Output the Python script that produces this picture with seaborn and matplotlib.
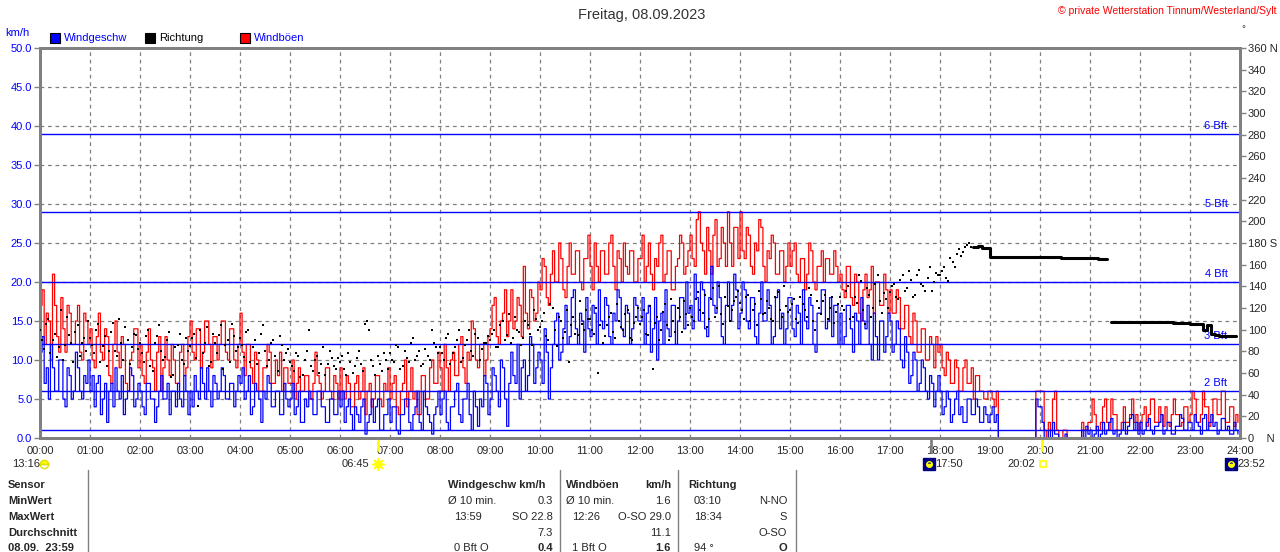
import numpy as np
import pandas as pd
import matplotlib
matplotlib.use("Agg")
import matplotlib.pyplot as plt
import seaborn as sns
from matplotlib.patches import Rectangle
from matplotlib.transforms import blended_transform_factory

# ==========================================
# DATA (2.5-minute samples, 24 per hour)
# ==========================================

windgeschw = [
    11, 13, 7, 9, 5, 12, 9, 6, 6, 10, 10, 5, 4, 9, 8, 5, 6, 11, 9, 6, 5, 8, 7, 10,
    6, 8, 4, 7, 8, 3, 5, 7, 2, 6, 7, 4, 9, 6, 5, 8, 3, 5, 6, 9, 8, 4, 5, 7,
    6, 4, 3, 7, 7, 5, 5, 2, 4, 6, 8, 5, 5, 7, 3, 6, 6, 4, 7, 5, 4, 8, 6, 3,
    6, 4, 8, 6, 5, 9, 7, 5, 9, 6, 4, 8, 7, 5, 6, 9, 8, 5, 5, 7, 7, 4, 6, 8,
    7, 9, 5, 6, 8, 3, 4, 7, 6, 5, 2, 6, 5, 8, 7, 4, 4, 6, 6, 3, 3, 7, 5, 4,
    5, 7, 3, 4, 6, 2, 2, 5, 4, 6, 5, 3, 3, 6, 6, 4, 4, 2, 2, 5, 5, 3, 3, 6,
    4, 6, 2, 4, 5, 3, 1, 4, 3, 2, 4, 5, 0.5, 2, 3, 5, 2, 4, 5, 1, 1, 3, 3, 5,
    2, 4, 4, 1, 0.5, 3, 3, 5, 5, 2, 1, 3, 4, 6, 2, 1, 6, 4, 3, 2, 0.5, 3, 4, 6,
    3, 5, 6, 2, 1, 4, 4, 6, 7, 3, 2, 5, 5, 7, 3, 1, 6, 4, 1.5, 5, 4, 8, 7, 3,
    5, 9, 8, 6, 4, 10, 9, 5, 1.5, 7, 11, 8, 7, 12, 5, 9, 10, 6, 8, 13, 12, 7, 9, 11,
    10, 7, 14, 11, 5, 9, 12, 15, 16, 10, 11, 14, 17, 12, 13, 18, 19, 14, 12, 16, 15, 11, 18, 14,
    13, 17, 16, 12, 19, 15, 14, 18, 17, 13, 12, 16, 15, 19, 18, 14, 13, 17, 16, 12, 14, 18, 17, 15,
    15, 18, 12, 16, 17, 11, 14, 18, 10, 15, 16, 12, 19, 14, 13, 17, 17, 12, 15, 18, 18, 14, 20, 16,
    17, 14, 21, 18, 15, 20, 19, 14, 13, 18, 22, 17, 16, 20, 18, 13, 12, 17, 20, 15, 17, 21, 19, 14,
    16, 20, 19, 15, 14, 18, 18, 13, 12, 16, 20, 15, 15, 19, 17, 12, 13, 18, 19, 14, 16, 12, 14, 18,
    18, 14, 13, 17, 16, 12, 19, 15, 14, 18, 17, 12, 11, 16, 16, 19, 19, 14, 15, 18, 13, 17, 17, 12,
    16, 12, 13, 17, 17, 14, 11, 16, 15, 12, 18, 15, 14, 17, 12, 10, 16, 13, 10, 15, 15, 11, 13, 16,
    15, 11, 12, 15, 14, 10, 9, 13, 11, 7, 8, 11, 10, 6, 7, 10, 9, 6, 5, 8, 7, 4, 6, 8,
    6, 3, 4, 6, 5, 2, 3, 5, 6, 3, 4, 2, 2, 5, 5, 3, 3, 5, 4, 2, 2, 4, 3, 2,
    3, 4, 2, 3, 0, 0, 0, 0, 0, 0, 0, 0, 0, 0, 0, 0, 0, 0, 0, 0, 0, 0, 5, 4,
    4, 2, 0, 0, 1, 0, 2, 0.5, 0.5, 0, 0, 0, 0.5, 0, 0, 0, 0, 0, 0, 0, 1, 0, 1.5, 0.5,
    1, 0, 0.5, 1.5, 0, 0.5, 2, 0.5, 1, 2, 2.5, 0.5, 1, 0, 0.5, 1, 2, 0.5, 1.5, 2.5, 3, 1, 2, 0.5,
    2, 0.5, 1, 2, 2.5, 1, 0.5, 1.5, 1.5, 2, 3, 0.5, 1, 2, 2, 0.5, 0.5, 1.5, 1.5, 3, 2.5, 1, 1, 2,
    2, 1, 3, 2, 1.5, 0.5, 2.5, 3, 1, 2, 3, 1.5, 2, 0.5, 1, 2.5, 2.5, 1, 1.5, 0.5, 0.5, 2, 1, 0.5,
]

windboeen = [
    17, 19, 12, 16, 15, 10, 21, 17, 13, 11, 18, 14, 11, 17, 16, 12, 12, 15, 17, 11, 10, 16, 15, 12,
    14, 10, 9, 13, 16, 11, 10, 14, 13, 8, 7, 12, 15, 11, 9, 13, 12, 7, 6, 10, 11, 14, 14, 9,
    12, 8, 7, 11, 14, 10, 9, 6, 11, 13, 6, 9, 13, 10, 8, 12, 10, 7, 7, 11, 12, 8, 9, 13,
    15, 11, 10, 14, 14, 9, 11, 15, 15, 12, 9, 13, 13, 10, 12, 15, 15, 11, 10, 14, 14, 10, 9, 12,
    16, 11, 8, 12, 12, 9, 7, 11, 10, 6, 6, 9, 9, 12, 11, 7, 7, 10, 8, 11, 6, 9, 9, 7,
    7, 10, 5, 7, 9, 6, 6, 8, 8, 5, 5, 7, 11, 8, 7, 5, 6, 9, 9, 6, 5, 8, 7, 5,
    9, 6, 5, 8, 7, 4, 4, 7, 8, 5, 6, 9, 3, 6, 7, 4, 5, 8, 8, 5, 4, 7, 6, 9,
    5, 7, 8, 4, 3, 6, 7, 10, 4, 6, 9, 5, 6, 3, 3, 8, 8, 5, 5, 9, 10, 7, 7, 11,
    9, 6, 12, 9, 6, 10, 11, 8, 8, 12, 13, 9, 7, 11, 10, 15, 14, 10, 9, 12, 12, 8, 10, 13,
    14, 17, 18, 13, 12, 15, 16, 19, 13, 15, 19, 14, 15, 18, 17, 13, 22, 16, 14, 19, 18, 15, 16, 20,
    19, 23, 22, 18, 17, 21, 24, 20, 20, 25, 23, 19, 18, 22, 25, 21, 21, 24, 24, 20, 19, 23, 23, 26,
    22, 19, 25, 22, 20, 24, 24, 21, 21, 25, 26, 22, 19, 24, 23, 20, 25, 22, 21, 24, 24, 20, 20, 23,
    23, 26, 20, 22, 25, 21, 19, 23, 22, 25, 26, 20, 21, 24, 24, 19, 19, 22, 23, 26, 25, 21, 22, 24,
    26, 23, 22, 28, 29, 25, 24, 21, 27, 24, 21, 26, 28, 22, 23, 27, 25, 22, 29, 25, 22, 27, 27, 23,
    29, 24, 23, 27, 26, 22, 21, 25, 24, 28, 27, 22, 20, 24, 23, 26, 25, 21, 21, 24, 24, 20, 22, 25,
    22, 24, 25, 21, 20, 23, 23, 19, 21, 25, 24, 20, 19, 22, 22, 24, 20, 23, 23, 21, 21, 24, 22, 20,
    21, 19, 18, 22, 22, 18, 17, 21, 20, 16, 15, 19, 21, 18, 19, 22, 16, 20, 20, 17, 17, 21, 19, 16,
    19, 16, 16, 19, 18, 14, 14, 17, 17, 13, 12, 16, 15, 11, 11, 14, 14, 10, 10, 13, 12, 9, 13, 11,
    12, 9, 8, 11, 10, 7, 7, 10, 9, 6, 6, 9, 10, 7, 7, 9, 5, 8, 8, 6, 6, 5, 5, 6,
    6, 5, 4, 6, 0, 0, 0, 0, 0, 0, 0, 0, 0, 0, 0, 0, 0, 0, 0, 0, 0, 0, 6, 6,
    6, 6, 1, 0, 2, 1, 5, 6, 1, 0, 0, 1, 1, 0, 0, 0, 0, 0, 0, 0, 2, 1, 1, 2,
    2, 5, 3, 1, 1, 2, 4, 5, 2, 1, 5, 3, 3, 1, 1, 2, 4, 2, 2, 3, 5, 2, 3, 1,
    2, 3, 4, 1.5, 3, 5, 5, 2, 2, 4, 3, 1.5, 4, 2, 1.5, 3, 5, 3, 3, 1.5, 2, 4, 4, 2,
    3, 6, 5, 2, 2, 3, 6, 4, 4, 1.5, 2, 5, 5, 3, 3, 6, 6, 2, 2, 4, 4, 1.5, 3, 2,
]

# direction dots 00:00 - 18:35, every 5 min (degrees)
richtung_punkte = [
    100, 82, 110, 90, 75, 118, 86, 95, 70, 104, 88, 80,
    92, 78, 105, 85, 66, 98, 80, 110, 72, 90, 84, 95,
    88, 70, 100, 62, 94, 80, 75, 98, 58, 86, 72, 92,
    85, 96, 30, 78, 102, 70, 88, 95, 64, 90, 105, 80,
    92, 75, 100, 84, 68, 96, 80, 72, 90, 62, 86, 78,
    70, 62, 76, 58, 80, 66, 72, 60, 84, 68, 74, 64,
    70, 64, 78, 60, 74, 68, 105, 100, 66, 76, 62, 72,
    78, 70, 84, 66, 74, 88, 72, 80, 68, 76, 100, 84,
    84, 72, 96, 78, 90, 70, 86, 100, 76, 92, 82, 88,
    90, 100, 84, 108, 95, 88, 112, 98, 92, 104, 86, 110,
    102, 115, 90, 120, 85, 108, 98, 70, 112, 95, 105, 118,
    110, 96, 60, 88, 104, 115, 92, 108, 100, 118, 90, 112,
    105, 118, 95, 64, 112, 100, 124, 90, 108, 120, 98, 114,
    120, 108, 135, 115, 102, 128, 112, 140, 105, 122, 118, 130,
    125, 110, 132, 118, 104, 128, 115, 120, 108, 135, 112, 122,
    118, 128, 106, 124, 112, 132, 100, 120, 126, 110, 130, 116,
    130, 118, 140, 112, 125, 145, 105, 132, 120, 150, 115, 128,
    135, 142, 128, 150, 138, 146, 132, 155, 140, 148, 136, 152,
    150, 158, 145, 162, 170, 168, 176, 180,
]

# direction dots 00:02:30 - 18:37:30, every 5 min (degrees)
richtung_punkte_b = [
    90, 105, 78, 96, 84, 72, 112, 88, 98, 76, 92, 108,
    86, 100, 70, 94, 80, 106, 76, 88, 102, 68, 96, 82,
    78, 94, 66, 88, 104, 72, 90, 56, 84, 96, 68, 80,
    92, 74, 100, 88, 66, 96, 78, 104, 86, 70, 94, 84,
    86, 98, 70, 90, 78, 104, 66, 88, 76, 94, 72, 82,
    66, 78, 56, 72, 100, 62, 76, 68, 58, 80, 66, 74,
    76, 58, 70, 66, 80, 62, 108, 72, 58, 68, 78, 64,
    72, 86, 64, 80, 70, 92, 76, 66, 82, 72, 88, 78,
    78, 92, 68, 84, 100, 74, 90, 80, 96, 72, 88, 94,
    96, 84, 104, 90, 114, 92, 100, 86, 108, 96, 118, 100,
    108, 94, 124, 100, 112, 92, 118, 104, 96, 126, 100, 110,
    100, 120, 104, 94, 112, 98, 124, 102, 114, 92, 106, 120,
    112, 96, 122, 106, 90, 116, 104, 128, 98, 112, 126, 104,
    112, 128, 118, 132, 110, 138, 120, 114, 130, 108, 126, 136,
    118, 130, 108, 124, 136, 114, 126, 110, 130, 118, 140, 116,
    124, 110, 130, 118, 138, 108, 126, 114, 132, 120, 106, 124,
    122, 136, 110, 130, 150, 118, 138, 112, 142, 126, 134, 120,
    140, 130, 146, 136, 154, 130, 150, 142, 136, 158, 144, 150,
    154, 148, 166, 158, 174, 172, 178, 176,
]

# direction steady part 18:40 - 23:55, every 5 min (degrees)
richtung_linie = [
    176, 177, 175, 175,
    167, 167, 167, 167, 167, 167, 167, 167, 167, 167, 167, 167,
    167, 167, 167, 167, 167, 166, 166, 166, 166, 166, 166, 166,
    166, 166, 165, 165, 165, 107, 107, 107, 107, 107, 107, 107,
    107, 107, 107, 107, 107, 107, 107, 107, 106, 106, 106, 106,
    105, 105, 105, 100, 104, 96, 95, 94, 94, 94, 94, 94,
]

bft_kmh = [1, 6, 12, 20, 29, 39]
bft_labels = ["", "2 Bft", "3 Bft", "4 Bft", "5 Bft", "6 Bft"]

hour_labels = [f"{h:02d}:00" for h in range(25)]
kmh_ticks = list(range(0, 51, 5))
deg_ticks = list(range(0, 361, 20))
deg_labels = ["0    N" if d == 0 else "180 S" if d == 180 else "360 N" if d == 360 else str(d)
              for d in deg_ticks]

# sun / moon events below the time axis
event_text = ["13:16", "06:45", "17:50", "20:02", "23:52"]
event_hour = [0.0, 6.75, 17.83, 20.03, 23.87]
event_kind = ["moon", "sun", "moonset", "sunset", "moonrise"]

table_rows = ["Sensor", "MinWert", "MaxWert", "Durchschnitt", "08.09.  23:59"]
wind_cells = [("Windgeschw km/h", ""), ("Ø 10 min.", "0.3"), ("13:59", "SO 22.8"), ("", "7.3"), ("0 Bft O", "0.4")]
boe_cells = [("Windböen", "km/h"), ("Ø 10 min.", "1.6"), ("12:26", "O-SO 29.0"), ("", "11.1"), ("1 Bft O", "1.6")]
dir_cells = [("Richtung", ""), ("03:10", "N-NO"), ("18:34", "S"), ("", "O-SO"), ("94 °", "O")]

# ==========================================
# FIGURE
# ==========================================

sns.set_style("white")
plt.rcParams['font.family'] = ['Liberation Sans', 'DejaVu Sans']

W, H = 1280, 552
GRAY = '#808080'


def fx(px):
    return px / W


def fy(py):
    return 1 - py / H


fig = plt.figure(figsize=(12.8, 5.52), dpi=100)
ax = fig.add_axes([fx(40), fy(438), 1200 / W, 390 / H])

t = np.arange(len(windgeschw)) * 2.5 / 60
t_b = np.arange(len(windboeen)) * 2.5 / 60
dw = pd.DataFrame({'t': t, 'wind': windgeschw})
db = pd.DataFrame({'t': t_b, 'boe': windboeen})

sns.lineplot(data=db, x='t', y='boe', ax=ax, color='#ff0000', lw=0.9,
             drawstyle='steps-post', estimator=None, zorder=3)
for v in bft_kmh:
    ax.axhline(v, color='#0000ff', lw=1.0, zorder=4)
sns.lineplot(data=dw, x='t', y='wind', ax=ax, color='#0000ff', lw=0.9,
             drawstyle='steps-post', estimator=None, zorder=5)

for v, lab in zip(bft_kmh, bft_labels):
    if lab:
        ax.text(23.75, v + 0.4, lab, color='#0000ff', fontsize=8, ha='right', va='bottom', zorder=6)

ax.set_xlim(0, 24)
ax.set_ylim(0, 50)
ax.set_xticks(range(25))
ax.set_xticklabels(hour_labels)
ax.set_yticks(kmh_ticks)
ax.set_yticklabels([f"{v:.1f}" for v in kmh_ticks], color='#0000ff')
ax.set_xlabel("")
ax.set_ylabel("")
ax.grid(True, color=GRAY, ls=(0, (3, 3)), lw=0.9)
ax.set_axisbelow(True)
ax.tick_params(axis='both', length=4, width=1, color=GRAY, labelsize=8, pad=1.5)
for s in ax.spines.values():
    s.set_color(GRAY)
    s.set_linewidth(2)
    s.set_zorder(10)

# direction on the right axis
ax2 = ax.twinx()
ax2.set_ylim(0, 360)
t_p = np.arange(len(richtung_punkte)) * 5 / 60
t_pb = (np.arange(len(richtung_punkte_b)) * 5 + 2.5) / 60
sns.scatterplot(x=t_p, y=richtung_punkte, ax=ax2, color='black', marker='s', s=4.5, linewidth=0, zorder=6)
sns.scatterplot(x=t_pb, y=richtung_punkte_b, ax=ax2, color='black', marker='s', s=4.5, linewidth=0, zorder=6)

t_l = (len(richtung_punkte) + np.arange(len(richtung_linie))) * 5 / 60
seg = np.concatenate([[0], np.cumsum(np.abs(np.diff(richtung_linie)) > 30)])
dl = pd.DataFrame({'t': t_l, 'deg': richtung_linie, 'seg': seg})
sns.lineplot(data=dl, x='t', y='deg', units='seg', estimator=None, ax=ax2, color='black',
             lw=2.2, drawstyle='steps-post', zorder=6)
ax2.set_yticks(deg_ticks)
ax2.set_yticklabels(deg_labels)
ax2.set_ylabel("")
ax2.tick_params(axis='y', length=4, width=1, color=GRAY, labelsize=8, pad=1.5)
ax2.grid(False)
for s in ax2.spines.values():
    s.set_color(GRAY)
    s.set_linewidth(2)

# sun / moon events
trans = blended_transform_factory(ax.transData, ax.transAxes)
ev_y = -0.066
for txt, h, kind in zip(event_text, event_hour, event_kind):
    if kind in ("sun", "sunset"):
        ax.plot([h, h], [0, -0.03], transform=trans, color='#ffff00', lw=2, clip_on=False, zorder=11)
    if kind == "moonset":
        ax.plot([h, h], [0, -0.035], transform=trans, color=GRAY, lw=2, clip_on=False, zorder=11)
    if kind == "moon":
        ax.plot(h + 0.08, ev_y, marker='o', fillstyle='top', ms=6, color='#ffff00', mec='#e0e000',
                transform=trans, clip_on=False)
        ax.text(h, ev_y, txt, transform=trans, ha='right', va='center', fontsize=8)
    elif kind == "sun":
        ax.plot(h, ev_y, marker='o', ms=5, color='#ffff00', mec='#ffff00', transform=trans, clip_on=False)
        ax.plot(h, ev_y, marker=(8, 2, 0), ms=9, color='#ffff00', mew=1, transform=trans, clip_on=False)
        ax.text(h - 0.17, ev_y, txt, transform=trans, ha='right', va='center', fontsize=8)
    elif kind == "sunset":
        ax.plot(h + 0.02, ev_y, marker='s', ms=5, mfc='none', mec='#ffff00', mew=1.2,
                transform=trans, clip_on=False)
        ax.text(h - 0.12, ev_y, txt, transform=trans, ha='right', va='center', fontsize=8)
    else:
        ax.plot(h - 0.05, ev_y, marker='s', ms=8, color='#000080', transform=trans, clip_on=False)
        ax.plot(h - 0.05, ev_y, marker='o', fillstyle='bottom', ms=4, color='#ffff00', mec='#ffff00',
                transform=trans, clip_on=False)
        ax.text(h + 0.07, ev_y, txt, transform=trans, ha='left', va='center', fontsize=8)

# header texts
fig.text(fx(642), fy(15), "Freitag, 08.09.2023", ha='center', va='center', fontsize=10.5, color='#333333')
fig.text(fx(1277), fy(11), "© private Wetterstation Tinnum/Westerland/Sylt", ha='right', va='center',
         fontsize=7.5, color='#ff0000')
fig.text(fx(1243), fy(29), "°", ha='center', va='center', fontsize=7, color='#333333')
fig.text(fx(5), fy(33), "km/h", ha='left', va='center', fontsize=8, color='#0000ff')

legend_items = [("Windgeschw", '#0000ff', '#0000ff', 50),
                ("Richtung", 'black', 'black', 145),
                ("Windböen", '#ff0000', '#0000ff', 240)]
for name, fc, tc, x0 in legend_items:
    fig.patches.append(Rectangle((fx(x0), fy(43)), 10 / W, 10 / H, transform=fig.transFigure,
                                 facecolor=fc, edgecolor='black', lw=0.8))
    fig.text(fx(x0 + 14), fy(38), name, ha='left', va='center', fontsize=8, color=tc)

# statistics table
row_y = [485, 501, 517, 533, 548]
for x0 in [88, 560, 678, 796]:
    fig.add_artist(plt.Line2D([fx(x0), fx(x0)], [fy(470), fy(552)], transform=fig.transFigure,
                              color=GRAY, lw=1))
for y0, lab in zip(row_y, table_rows):
    fig.text(fx(8), fy(y0), lab, ha='left', va='center', fontsize=8, fontweight='bold')

col_specs = [(wind_cells, 448, 553), (boe_cells, 566, 671), (dir_cells, 688, 787)]
for cells, xl, xr in col_specs:
    for i, (left, right) in enumerate(cells):
        head = i == 0
        last = i == len(cells) - 1
        lx = xl if (head or left.startswith("Ø")) else xl + 6
        if left:
            fig.text(fx(lx), fy(row_y[i]), left, ha='left', va='center', fontsize=8,
                     fontweight='bold' if head else 'normal')
        if right:
            fig.text(fx(xr), fy(row_y[i]), right, ha='right', va='center', fontsize=8,
                     fontweight='bold' if (head or last) else 'normal')

fig.savefig("out.png", dpi=100)
